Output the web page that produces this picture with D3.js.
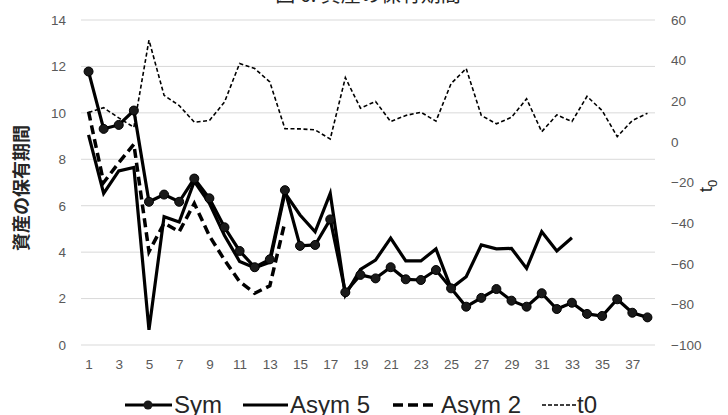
<!DOCTYPE html>
<html><head><meta charset="utf-8">
<script src="https://cdn.jsdelivr.net/npm/d3@7"></script>
<style>body{margin:0;background:#fff}svg{display:block}</style>
</head><body>
<script>
const categories = d3.range(1, 39);
const xTickLabels = d3.range(1, 38, 2);
const leftTicks = [0, 2, 4, 6, 8, 10, 12, 14];
const rightTicks = [-100, -80, -60, -40, -20, 0, 20, 40, 60];
const sym = [11.78, 9.31, 9.48, 10.1, 6.17, 6.48, 6.17, 7.17, 6.32, 5.07, 4.05, 3.35, 3.69, 6.67, 4.27, 4.31, 5.41, 2.27, 3.02, 2.87, 3.35, 2.83, 2.80, 3.23, 2.44, 1.65, 2.03, 2.41, 1.91, 1.65, 2.23, 1.55, 1.82, 1.34, 1.25, 1.97, 1.39, 1.19];
const asym5 = [9.05, 6.53, 7.5, 7.65, 0.65, 5.53, 5.3, 7.05, 6.1, 4.72, 3.6, 3.33, 3.56, 6.55, 5.6, 4.88, 6.53, 2.15, 3.26, 3.66, 4.6, 3.62, 3.62, 4.14, 2.44, 2.94, 4.31, 4.14, 4.16, 3.3, 4.88, 4.05, 4.62];
const asym2 = [10.05, 7.0, 7.85, 8.65, 4.02, 5.25, 4.88, 6.1, 4.7, 3.66, 2.73, 2.23, 2.55, 5.3];
const t0 = [14.5, 16.8, 11.8, 7.2, 50.1, 22.9, 17.9, 9.7, 10.5, 19.6, 38.6, 36.1, 29.5, 6.5, 6.4, 5.9, 1.4, 31.6, 16.6, 19.9, 10, 13, 14.6, 10.2, 28.7, 36.1, 13, 8.9, 12.1, 21.2, 5, 13.3, 10, 22.4, 15.4, 2.6, 10.5, 14.1];

const W = 728, H = 415;
const L = 81, R = 655, T = 20, B = 345;
const latin = "'Liberation Sans', Arial, sans-serif";
const cjk = "'Noto Sans CJK JP', 'Liberation Sans', sans-serif";
const tickColor = "#595959";

const svg = d3.select("body").append("svg").attr("width", W).attr("height", H);

const x = d3.scalePoint().domain(categories).range([L, R]).padding(0.5);
const yL = d3.scaleLinear().domain([0, 14]).range([B, T]);
const yR = d3.scaleLinear().domain([-100, 60]).range([B, T]);

// gridlines
svg.append("g").selectAll("line").data(leftTicks).join("line")
  .attr("x1", L).attr("x2", R)
  .attr("y1", d => yL(d)).attr("y2", d => yL(d))
  .attr("stroke", "#d9d9d9").attr("stroke-width", 1);

// left axis
const gl = svg.append("g").attr("transform", `translate(${L - 15},0)`)
  .call(d3.axisLeft(yL).tickValues(leftTicks).tickSize(0).tickPadding(0));
gl.select(".domain").remove();
gl.selectAll("text").attr("fill", tickColor).style("font-family", latin).style("font-size", "13.5px");

// right axis
const gr = svg.append("g").attr("transform", `translate(${R + 16},0)`)
  .call(d3.axisRight(yR).tickValues(rightTicks).tickSize(0).tickPadding(0));
gr.select(".domain").remove();
gr.selectAll("text").attr("fill", tickColor).style("font-family", latin).style("font-size", "13.5px");

// bottom axis
const gb = svg.append("g").attr("transform", `translate(0,${B + 14})`)
  .call(d3.axisBottom(x).tickValues(xTickLabels).tickSize(0).tickPadding(0));
gb.select(".domain").remove();
gb.selectAll("text").attr("fill", tickColor).style("font-family", latin).style("font-size", "13.5px");

// title (cut off at top)
svg.append("text").attr("x", 368).attr("y", 2).attr("text-anchor", "middle")
  .style("font-family", cjk).style("font-size", "20px").attr("fill", "#262626")
  .text("図 6. 資産の保有期間");

// left axis title
svg.append("text").attr("transform", "translate(28,188) rotate(-90)")
  .attr("text-anchor", "middle").style("font-family", cjk).style("font-size", "18px")
  .style("font-weight", "bold").attr("fill", "#262626").text("資産の保有期間");

// right axis title t0
const rt = svg.append("text").attr("transform", "translate(712,186) rotate(-90)")
  .attr("text-anchor", "middle").style("font-family", latin).style("font-size", "19px")
  .attr("fill", "#262626");
rt.append("tspan").text("t");
rt.append("tspan").attr("dy", 5).style("font-size", "13px").text("0");

// series
const lineL = d3.line().x((d, i) => x(categories[i])).y(d => yL(d));
const lineR = d3.line().x((d, i) => x(categories[i])).y(d => yR(d));

svg.append("path").datum(t0).attr("d", lineR).attr("fill", "none")
  .attr("stroke", "#000").attr("stroke-width", 1.6).attr("stroke-dasharray", "4,2.5");
svg.append("path").datum(asym2).attr("d", lineL).attr("fill", "none")
  .attr("stroke", "#000").attr("stroke-width", 3.5).attr("stroke-dasharray", "9,5");
svg.append("path").datum(asym5).attr("d", lineL).attr("fill", "none")
  .attr("stroke", "#000").attr("stroke-width", 3.2).attr("stroke-linejoin", "miter");
svg.append("path").datum(sym).attr("d", lineL).attr("fill", "none")
  .attr("stroke", "#000").attr("stroke-width", 3.2);
svg.append("g").selectAll("circle").data(sym).join("circle")
  .attr("cx", (d, i) => x(categories[i])).attr("cy", d => yL(d)).attr("r", 4.5)
  .attr("fill", "#1a1a1a").attr("stroke", "#000").attr("stroke-width", 1);

// legend
const ly = 405, lt = 413;
const leg = svg.append("g");
leg.append("line").attr("x1", 125).attr("x2", 172).attr("y1", ly).attr("y2", ly).attr("stroke", "#000").attr("stroke-width", 3.2);
leg.append("circle").attr("cx", 148).attr("cy", ly).attr("r", 4.5).attr("fill", "#1a1a1a");
leg.append("text").attr("x", 174).attr("y", lt).text("Sym");
leg.append("line").attr("x1", 243).attr("x2", 288).attr("y1", ly).attr("y2", ly).attr("stroke", "#000").attr("stroke-width", 3.2);
leg.append("text").attr("x", 290).attr("y", lt).text("Asym 5");
leg.append("line").attr("x1", 393).attr("x2", 434).attr("y1", ly).attr("y2", ly).attr("stroke", "#000").attr("stroke-width", 3.5).attr("stroke-dasharray", "10,5");
leg.append("text").attr("x", 441).attr("y", lt).text("Asym 2");
leg.append("line").attr("x1", 542).attr("x2", 577).attr("y1", ly).attr("y2", ly).attr("stroke", "#000").attr("stroke-width", 1.6).attr("stroke-dasharray", "4,2");
leg.append("text").attr("x", 577).attr("y", lt).text("t0");
leg.selectAll("text").style("font-family", latin).style("font-size", "24px").attr("fill", "#262626");
</script>
</body></html>
